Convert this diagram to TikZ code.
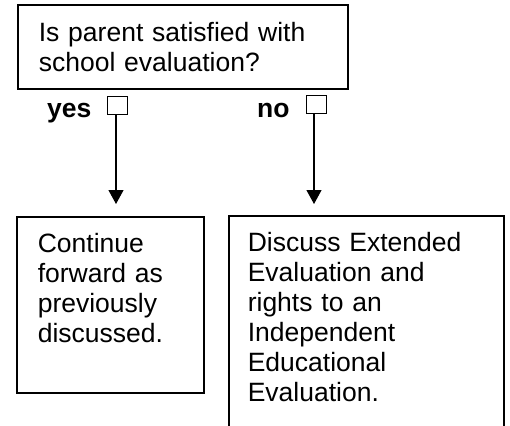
\documentclass[tikz,border=0pt]{standalone}
\usepackage{fontspec}
\setmainfont{Liberation Sans}
\usetikzlibrary{arrows.meta,positioning}

\tikzset{
    flowbox/.style={draw, line width=1.6bp, align=left, inner xsep=21bp, inner ysep=0pt, anchor=base west},
    checkbox/.style={draw, line width=0.9bp, minimum width=20bp, minimum height=18bp, inner sep=0pt},
    answer/.style={font=\bfseries\fontsize{26.5bp}{30bp}\selectfont, inner sep=0pt, anchor=base west}
}

\begin{document}
\begin{tikzpicture}[>={Triangle[width=15bp,length=14bp]}, x=1bp, y=-1bp,
                    font=\fontsize{26.5bp}{30bp}\selectfont]
                \useasboundingbox (0,0) rectangle (510,425);

                % question on top
                \node[flowbox, text width=288bp, text height=36bp, text depth=48bp] (question) at (17,41)
                    {Is parent satisfied with\\school evaluation?};

                \node[checkbox] (yescheck) at (117,105) {};
                \node[checkbox] (nocheck) at (316,104.5) {};
                \node[answer] (yes) at (47,117) {yes};
                \node[answer] (no) at (257,117) {no};

                \coordinate (yestip) at (116,204);
                \coordinate (notip) at (314,204);

                \draw[->, line width=1.1bp] (yescheck.south -| yestip) -- (yestip);
                \draw[->, line width=1.1bp] (nocheck.south -| notip) -- (notip);

                % the two outcomes
                \node[flowbox, text width=145bp, text height=35bp, text depth=141bp] (continue) at (16,252)
                    {Continue\\forward as\\previously\\discussed.};
                \node[flowbox, inner xsep=19bp, text width=237bp, text height=35bp, text depth=194bp] (discuss) at (228,251)
                    {Discuss Extended\\Evaluation and\\rights to an\\Independent\\Educational\\Evaluation.};
            \end{tikzpicture}
\end{document}
